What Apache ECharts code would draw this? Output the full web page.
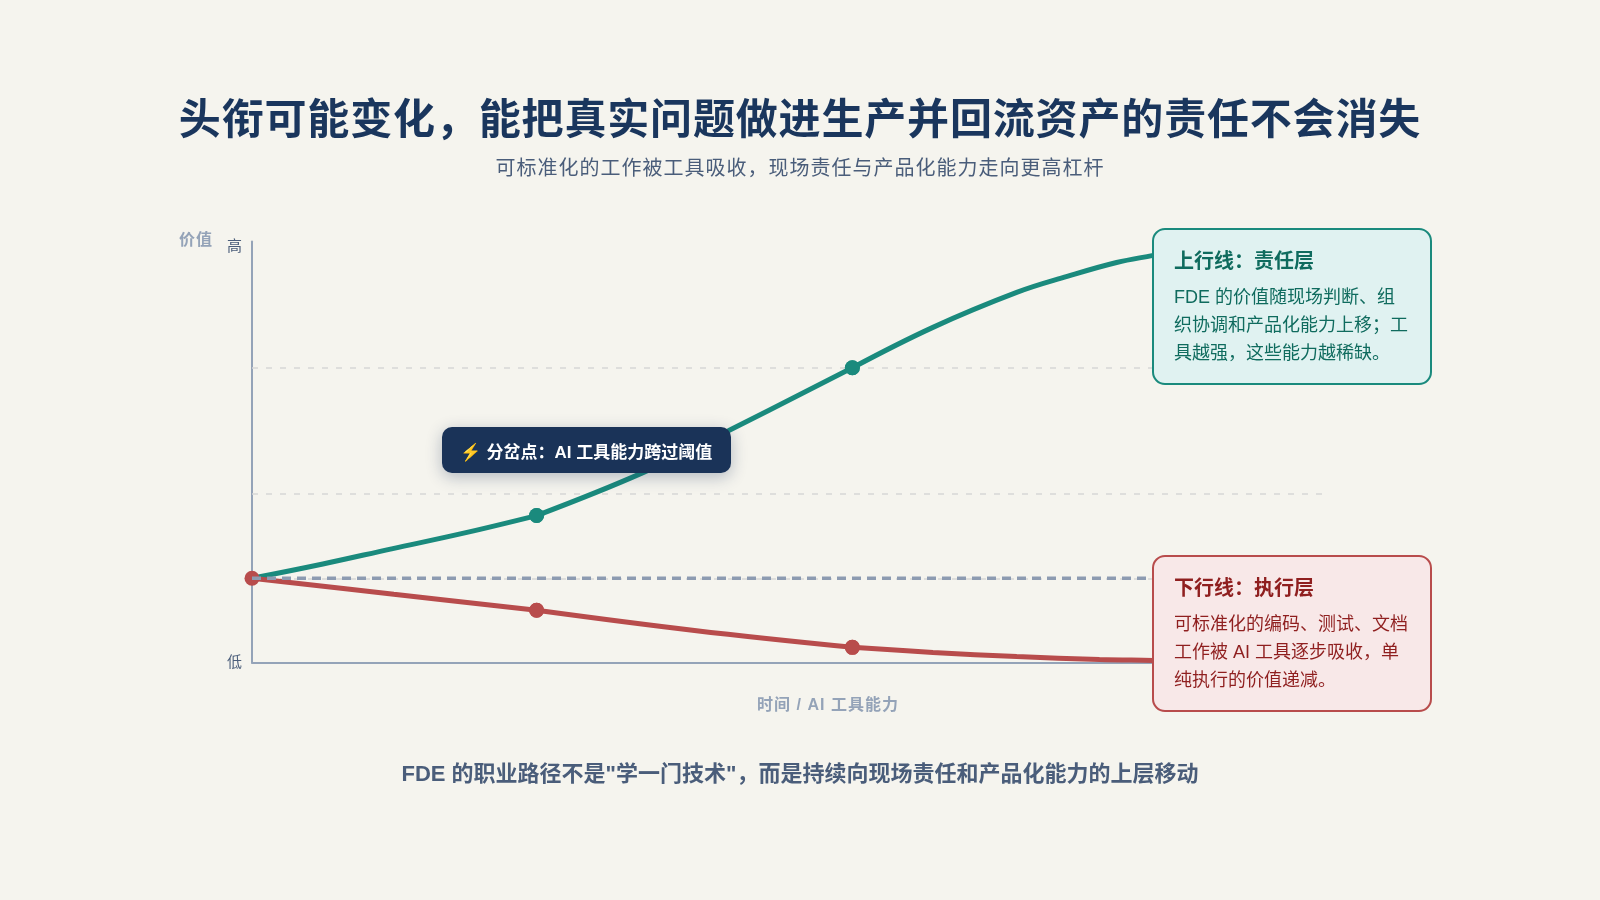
<!DOCTYPE html>
<html><head><meta charset="utf-8">
<style>html,body{margin:0;padding:0;background:#f5f4ee}#c{width:1600px;height:900px}</style>
<script src="https://cdn.jsdelivr.net/npm/echarts@6/dist/echarts.min.js"></script>
</head><body><div id="c"></div>
<script>
const FONT = '"Liberation Sans","Noto Sans CJK SC","Noto Color Emoji",sans-serif';
const titleText = '头衔可能变化，能把真实问题做进生产并回流资产的责任不会消失';
const subtitleText = '可标准化的工作被工具吸收，现场责任与产品化能力走向更高杠杆';
const footerText = 'FDE 的职业路径不是"学一门技术"，而是持续向现场责任和产品化能力的上层移动';
const yName = '价值';
const xName = '时间 / AI 工具能力';
const yTickLabels = {0:'低',100:'{hi|高}'};
const calloutText = '⚡ 分岔点：AI 工具能力跨过阈值';
const upTitle = '上行线：责任层';
const upLines = ['FDE 的价值随现场判断、组','织协调和产品化能力上移；工','具越强，这些能力越稀缺。'];
const downTitle = '下行线：执行层';
const downLines = ['可标准化的编码、测试、文档','工作被 AI 工具逐步吸收，单','纯执行的价值递减。'];

// upper line, one list per stretch between the marked points
const upX1 = [0,6.6,13.0,19.5,26.5];
const upY1 = [20,23.4,27.0,30.6,34.9];
const upX2 = [26.5,36.4,44.4,55.9];
const upY2 = [34.9,45.1,55.1,70];
const upX3 = [55.9,63.4,71.2,75.9,80.5,83.9,86.4];
const upY3 = [70,79.6,87.9,91.7,95,96.7,97.96];
// lower line
const downX1 = [0,13.2,26.5];
const downY1 = [20,16.2,12.4];
const downX2 = [26.5,41.2,55.9];
const downY2 = [12.4,7.6,3.6];
const downX3 = [55.9,63.4,71.2,78.9,83.9,86.4];
const downY3 = [3.6,2.4,1.4,0.7,0.5,0.36];
const upMarked = [26.5,55.9];
const downMarked = [0,26.5,55.9];
const gridLevels = [70,40,20];
const gridEnd = 100;
const baseline = 20;
const baselineEnd = 83.9;
const xMax = 107.26;

// letter spacing of the text lines that have it in the reference
const spacing = new Map([[titleText,'0.84px'],[subtitleText,'1px'],[yName,'1px'],[xName,'1px']]);
const nativeFill = CanvasRenderingContext2D.prototype.fillText;
CanvasRenderingContext2D.prototype.fillText = function(t,x,y,m){
  this.letterSpacing = spacing.get(t) || '0px';
  return m===undefined ? nativeFill.call(this,t,x,y) : nativeFill.call(this,t,x,y,m);
};

const TEAL='#1a8a7d', RED='#b84c4c', AXIS='#94a3b8', LABEL='#4a5d7a';
const pairs=(xs,ys)=>xs.map((x,i)=>[x,ys[i]]);
const chart = echarts.init(document.getElementById('c'),null,{renderer:'canvas'});

function box(x,y,w,h,fill,stroke,titleColor,bodyColor,title,lines,titleY,firstY){
  const els=[{type:'rect',z:50,shape:{x,y,width:w,height:h,r:12},style:{fill,stroke,lineWidth:2}},
    {type:'text',z:51,x:x+21,y:titleY,style:{text:title,fill:titleColor,font:'bold 20px '+FONT,verticalAlign:'middle'}}];
  lines.forEach((t,i)=>els.push({type:'text',z:51,x:x+21,y:firstY+i*28,style:{text:t,fill:bodyColor,font:'18px '+FONT,verticalAlign:'middle'}}));
  return els;
}
function stretch(name,xs,ys,color,marked,z){
  return {type:'line',name,data:pairs(xs,ys),smooth:0.4,z,showSymbol:true,symbol:'circle',
    symbolSize:(v)=>marked.includes(v[0])?15:0,
    lineStyle:{color,width:5},itemStyle:{color}};
}

chart.setOption({
  animation:false,
  backgroundColor:'#f5f4ee',
  textStyle:{fontFamily:FONT},
  title:[
    {text:titleText,left:800,top:101,padding:0,textAlign:'center',textStyle:{fontSize:42,fontWeight:'bold',color:'#1a365d',fontFamily:FONT}},
    {text:subtitleText,left:800,top:159,padding:0,textAlign:'center',textStyle:{fontSize:20,fontWeight:'normal',color:LABEL,fontFamily:FONT}},
    {text:footerText,left:800,top:764,padding:0,textAlign:'center',textStyle:{fontSize:22,fontWeight:'bold',color:LABEL,fontFamily:FONT}}
  ],
  grid:{left:252,top:241.5,width:1152,height:421,containLabel:false},
  xAxis:{type:'value',min:0,max:xMax,
    name:xName,nameLocation:'middle',nameGap:35,
    nameTextStyle:{fontSize:16,fontWeight:'bold',color:AXIS,fontFamily:FONT},
    axisLine:{show:true,onZero:false,lineStyle:{color:AXIS,width:2}},axisTick:{show:false},axisLabel:{show:false},splitLine:{show:false}},
  yAxis:{type:'value',min:0,max:100,interval:100,
    name:yName,nameLocation:'end',nameGap:-10,
    nameTextStyle:{fontSize:16,fontWeight:'bold',color:AXIS,align:'right',padding:[0,39,3,0],fontFamily:FONT},
    axisLine:{show:true,onZero:false,lineStyle:{color:AXIS,width:2}},axisTick:{show:false},splitLine:{show:false},
    axisLabel:{margin:10,fontSize:15,color:LABEL,fontFamily:FONT,verticalAlignMaxLabel:'top',
      rich:{hi:{fontSize:15,color:LABEL,lineHeight:11,fontFamily:FONT}},
      formatter:v=>yTickLabels[v]||''}},
  series:[
    {type:'line',name:'grid',silent:true,data:[],z:1,symbol:'none',
      markLine:{z:1,silent:true,symbol:'none',label:{show:false},animation:false,
        lineStyle:{color:'#d6d6d6',width:1.5,type:[6,8]},
        data:gridLevels.map(v=>[{coord:[0,v]},{coord:[gridEnd,v]}])}},
    stretch('上行线',upX1,upY1,TEAL,upMarked,3),
    stretch('上行线',upX2,upY2,TEAL,upMarked,3),
    stretch('上行线',upX3,upY3,TEAL,upMarked,3),
    stretch('下行线',downX1,downY1,RED,downMarked,4),
    stretch('下行线',downX2,downY2,RED,downMarked,4),
    stretch('下行线',downX3,downY3,RED,downMarked,4),
    {type:'line',name:'基线',data:pairs([0,baselineEnd],[baseline,baseline]),z:5,symbol:'none',
      lineStyle:{color:'#8d9bb1',width:3.5,type:[9,6]}}
  ],
  graphic:{elements:[
    ...box(1153,229,278,155,'#e0f2f1',TEAL,'#0f6b5e','#0f6b5e',upTitle,upLines,262,298.5),
    ...box(1153,556,278,155,'#f8e8e8',RED,'#8f1f1f','#8f1f1f',downTitle,downLines,589,625),
    {type:'rect',z:60,shape:{x:442,y:427,width:289,height:46,r:10},style:{fill:'#1a3358',shadowBlur:16,shadowOffsetY:4,shadowColor:'rgba(26,51,88,0.3)'}},
    {type:'text',z:61,x:586.5,y:453,style:{text:calloutText,fill:'#fff',font:'bold 17px '+FONT,align:'center',verticalAlign:'middle'}}
  ]}
});
</script></body></html>
